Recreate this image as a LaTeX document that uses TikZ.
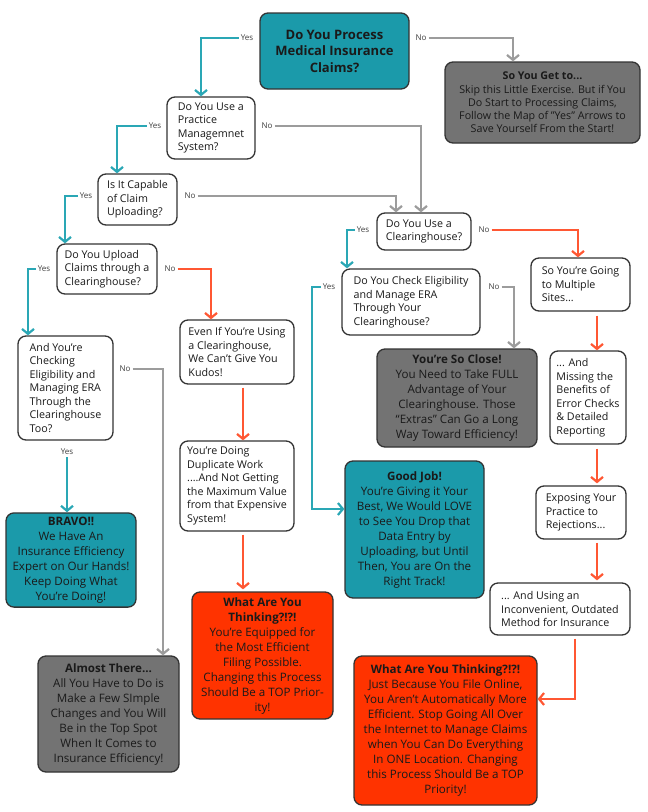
\documentclass[tikz,border=0pt]{standalone}
\usepackage{fontspec}
\setmainfont{Open Sans}
\usetikzlibrary{arrows.meta,calc}
\definecolor{tealfill}{HTML}{1B9AAA}
\definecolor{tealarr}{HTML}{2AA7B5}
\definecolor{redfill}{HTML}{FF3300}
\definecolor{redarr}{HTML}{FF5733}
\definecolor{grayfill}{HTML}{737373}
\definecolor{grayarr}{HTML}{9C9C9C}
\definecolor{boxline}{HTML}{333333}
\definecolor{ink}{HTML}{1A1A1A}
\tikzset{
  box/.style={draw=boxline, line width=1.3pt, rounded corners=8pt, inner sep=4pt, text=ink},
  qbox/.style={box, fill=white, align=left, font=\fontsize{10.7}{13.5}\selectfont},
  endbox/.style={box, align=center, font=\fontsize{11.6}{15}\selectfont},
  sz/.style 2 args={minimum width=#1pt, minimum height=#2pt},
  lbl/.style={font=\fontsize{8}{9}\selectfont, text=ink!85, inner sep=2pt},
  arr/.style={line width=2.2pt, -{Straight Barb[length=5pt,width=12pt]}},
  yesarr/.style={arr, draw=tealarr},
  noarr/.style={arr, draw=grayarr},
  redline/.style={arr, draw=redarr},
}
\begin{document}
\begin{tikzpicture}[x=1pt, y=-1pt]
  \useasboundingbox (0,0) rectangle (648,812);

  % questions
  \node[box, fill=tealfill, sz={149}{76}, align=center, font=\fontsize{13}{16.5}\selectfont\bfseries] (q1) at (334.5,51) {Do You Process\\Medical Insurance\\Claims?};
  \node[qbox, sz={88}{62}] (q2) at (211,128) {Do You Use a\\Practice\\Managemnet\\System?};
  \node[qbox, sz={79}{51}] (q3) at (137.5,199.5) {Is It Capable\\of Claim\\Uploading?};
  \node[qbox, sz={100}{50}] (q4) at (107,269) {Do You Upload\\Claims through a\\Clearinghouse?};
  \node[qbox, sz={95}{104}] (q5) at (65.5,388) {And You’re\\Checking\\Eligibility and\\Managing ERA\\Through the\\Clearinghouse\\Too?};
  \node[qbox, sz={94}{37}] (q6) at (424,231.5) {Do You Use a\\Clearinghouse?};
  \node[qbox, sz={138}{66}] (q7) at (411,302) {Do You Check Eligibility\\and Manage ERA\\Through Your\\Clearinghouse?};

  % statements
  \node[qbox, sz={114}{64}] (kudos) at (237,352) {Even If You’re Using\\a Clearinghouse,\\We Can’t Give You\\Kudos!};
  \node[qbox, sz={114}{90}] (dup) at (237,486) {You’re Doing\\Duplicate Work\\....And Not Getting\\the Maximum Value\\from that Expensive\\System!};
  \node[qbox, sz={99}{53}] (multi) at (580.5,284.5) {So You’re Going\\to Multiple\\Sites...};
  \node[qbox, sz={76}{93}] (miss) at (588,397.5) {... And\\Missing the\\Benefits of\\Error Checks\\\& Detailed\\Reporting};
  \node[qbox, sz={90}{53}] (expo) at (581,512.5) {Exposing Your\\Practice to\\Rejections...};
  \node[qbox, sz={140}{52}] (outd) at (560,609) {... And Using an\\Inconvenient, Outdated\\Method for Insurance};

  % results
  \node[endbox, fill=grayfill, sz={195}{81}, font=\fontsize{10.7}{13.3}\selectfont] (skip) at (542.5,102.5) {\textbf{So You Get to...}\\Skip this Little Exercise. But if You\\Do Start to Processing Claims,\\Follow the Map of \char34 Yes\char34{} Arrows to\\Save Yourself From the Start!};
  \node[endbox, fill=tealfill, sz={130}{80}] (bravo) at (71,560) {\textbf{BRAVO!!}\\We Have An\\Insurance Efficiency\\Expert on Our Hands!\\Keep Doing What\\You’re Doing!};
  \node[endbox, fill=grayfill, sz={141}{116}] (almost) at (108.5,714) {\textbf{Almost There...}\\All You Have to Do is\\Make a Few SImple\\Changes and You Will\\Be in the Top Spot\\When It Comes to\\Insurance Efficiency!};
  \node[endbox, fill=redfill, sz={141}{127}] (think1) at (262.5,655.5) {\textbf{What Are You}\\\textbf{Thinking?!?!}\\You’re Equipped for\\the Most Efficient\\Filing Possible.\\Changing this Process\\Should Be a TOP Prior-\\ity!};
  \node[endbox, fill=grayfill, sz={160}{98}] (close) at (457,398) {\textbf{You’re So Close!}\\You Need to Take FULL\\Advantage of Your\\Clearinghouse. Those\\“Extras” Can Go a Long\\Way Toward Efficiency!};
  \node[endbox, fill=tealfill, sz={139}{137}] (good) at (414.5,529.5) {\textbf{Good Job!}\\You're Giving it Your\\Best, We Would LOVE\\to See You Drop that\\Data Entry by\\Uploading, but Until\\Then, You are On the\\Right Track!};
  \node[endbox, fill=redfill, sz={183}{149}] (think2) at (445.5,730.5) {\textbf{What Are You Thinking?!?!}\\Just Because You File Online,\\You Aren’t Automatically More\\Efficient. Stop Going All Over\\the Internet to Manage Claims\\when You Can Do Everything\\In ONE Location. Changing\\this Process Should Be a TOP\\Priority!};

  % yes / no labels
  \node[lbl] (y1) at (247,38) {Yes};
  \node[lbl] (n1) at (421,38) {No};
  \node[lbl] (y2) at (155,126) {Yes};
  \node[lbl] (n2) at (267,126) {No};
  \node[lbl] (y3) at (86,196) {Yes};
  \node[lbl] (n3) at (190,196) {No};
  \node[lbl] (y4) at (44,269) {Yes};
  \node[lbl] (n4) at (170,269) {No};
  \node[lbl] (y5) at (67,452) {Yes};
  \node[lbl] (n5) at (125,369) {No};
  \node[lbl] (y6) at (363,230) {Yes};
  \node[lbl] (n6) at (484,230) {No};
  \node[lbl] (y7) at (329,287) {Yes};
  \node[lbl] (n7) at (494,287) {No};

  % connectors
  \draw[yesarr] (y1) -| ($(q2.north)+(-10,0)$);
  \draw[noarr] (n1) -| ($(skip.north)+(-29.5,0)$);
  \draw[yesarr] (y2) -| ($(q3.north)+(-20.5,0)$);
  \draw[noarr] (n2) -| ($(q6.north)+(-3,0)$);
  \draw[yesarr] (y3) -| ($(q4.north)+(-42,0)$);
  \draw[noarr] (n3) -| ($(q6.north)+(-28,0)$);
  \draw[yesarr] (y4) -| ($(q5.north)+(-37.5,0)$);
  \draw[redline] (n4) -| ($(kudos.north)+(-26,0)$);
  \draw[yesarr] (y5) -- (y5 |- bravo.north);
  \draw[noarr] (n5) -| ($(almost.north)+(54.5,0)$);
  \draw[redline] ($(kudos.south)+(6,3)$) -- ($(dup.north)+(6,0)$);
  \draw[redline] ($(dup.south)+(6,3)$) -- ($(think1.north)+(-19.5,-2)$);
  \draw[yesarr] (y6) -| ($(q7.north)+(-64,0)$);
  \draw[redline] (n6) -| ($(multi.north)+(-2.5,0)$);
  \draw[yesarr] (y7) -- ++(-17,0) |- ($(good.west)+(0,-20.5)$);
  \draw[noarr] (n7) -| ($(close.north)+(57,0)$);
  \draw[redline] ($(multi.south)+(16.5,4)$) -- ($(miss.north)+(9,0)$);
  \draw[redline] ($(miss.south)+(9,4)$) -- ($(expo.north)+(16,-2)$);
  \draw[redline] ($(expo.south)+(16,3)$) -- ($(outd.north)+(37,-2)$);
  \draw[redline] ($(outd.south)+(15,3)$) |- ($(think2.east)+(0,-31.5)$);
\end{tikzpicture}
\end{document}
